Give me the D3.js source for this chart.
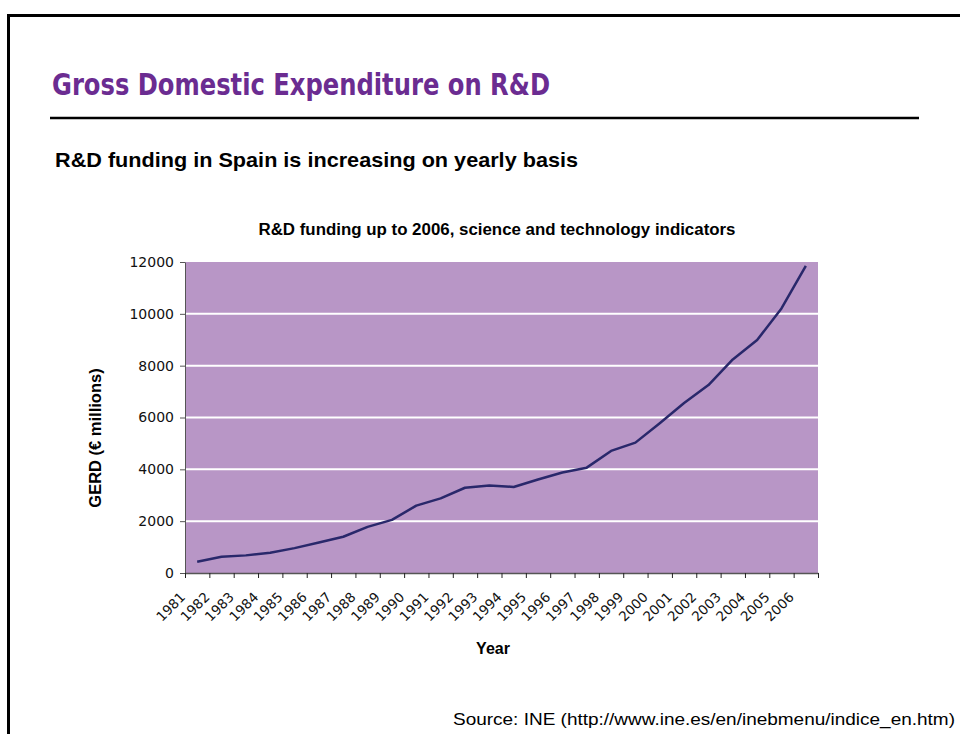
<!DOCTYPE html>
<html>
<head>
<meta charset="utf-8">
<script src="https://cdn.jsdelivr.net/npm/d3@7"></script>
<style>
  body { margin: 0; background: #fff; }
  text { font-family: "Liberation Sans", Arial, sans-serif; }
</style>
</head>
<body>
<script>
// data
var years = ['1981','1982','1983','1984','1985','1986','1987','1988','1989','1990',
             '1991','1992','1993','1994','1995','1996','1997','1998','1999','2000',
             '2001','2002','2003','2004','2005','2006'];
var gerd = [437, 625, 680, 785, 960, 1180, 1400, 1780, 2050, 2600,
            2880, 3290, 3380, 3320, 3610, 3880, 4065, 4710, 5030, 5780,
            6560, 7250, 8240, 8990, 10210, 11850];
var yTicks = [0, 2000, 4000, 6000, 8000, 10000, 12000];

window.onload = function() {
    var svg = d3.select('body').append('svg')
        .attr('width', 960)
        .attr('height', 734);

    // page frame, top and left edges only
    svg.append('path')
        .attr('d', 'M8.5,734 L8.5,15.5 L960,15.5')
        .style('fill', 'none')
        .style('stroke', '#000')
        .style('stroke-width', 3);

    // page heading
    svg.append('text')
        .attr('x', 52)
        .attr('y', 95)
        .attr('textLength', 498)
        .attr('lengthAdjust', 'spacingAndGlyphs')
        .style('font-family', '"Liberation Sans Narrow", "DejaVu Sans Condensed", sans-serif')
        .style('font-size', '31px')
        .style('font-weight', 'bold')
        .style('fill', '#6b2c91')
        .text('Gross Domestic Expenditure on R&D');

    svg.append('line')
        .attr('x1', 50).attr('x2', 919)
        .attr('y1', 118).attr('y2', 118)
        .style('stroke', '#000')
        .style('stroke-width', 2.5);

    svg.append('text')
        .attr('x', 55)
        .attr('y', 167)
        .attr('textLength', 523)
        .attr('lengthAdjust', 'spacingAndGlyphs')
        .style('font-size', '21px')
        .style('font-weight', 'bold')
        .text('R&D funding in Spain is increasing on yearly basis');

    // chart title
    svg.append('text')
        .attr('x', 497)
        .attr('y', 235)
        .attr('text-anchor', 'middle')
        .attr('textLength', 477)
        .attr('lengthAdjust', 'spacingAndGlyphs')
        .style('font-size', '16px')
        .style('font-weight', 'bold')
        .text('R&D funding up to 2006, science and technology indicators');

    var left = 185, right = 818, top = 262, bottom = 573;

    var x = d3.scaleBand()
        .domain(years)
        .range([left, right]);

    var y = d3.scaleLinear()
        .domain([0, 12000])
        .range([bottom, top]);

    // plot background
    svg.append('rect')
        .attr('x', left)
        .attr('y', top)
        .attr('width', right - left)
        .attr('height', bottom - top)
        .style('fill', '#b896c6');

    // white gridlines
    svg.selectAll('.grid')
        .data(yTicks.filter(function(d) { return d > 0 && d < 12000; }))
        .enter()
        .append('line')
        .attr('class', 'grid')
        .attr('x1', left).attr('x2', right)
        .attr('y1', function(d) { return y(d); })
        .attr('y2', function(d) { return y(d); })
        .style('stroke', '#fff')
        .style('stroke-width', 2);

    // y axis
    var yAxis = d3.axisLeft(y)
        .tickValues(yTicks)
        .tickSize(5)
        .tickSizeOuter(0)
        .tickPadding(6)
        .tickFormat(d3.format('d'));

    var yG = svg.append('g')
        .attr('transform', 'translate(' + left + ',0)')
        .call(yAxis);
    yG.select('.domain').style('stroke', '#555');
    yG.selectAll('.tick line').style('stroke', '#555');
    yG.selectAll('text')
        .style('font-family', '"DejaVu Sans", sans-serif')
        .style('font-size', '14px')
        .style('fill', '#111');

    // x axis ticks at band boundaries
    var edge = d3.scaleLinear().domain([0, years.length]).range([left, right]);
    var xTickG = svg.append('g')
        .attr('transform', 'translate(0,' + bottom + ')')
        .call(d3.axisBottom(edge)
            .tickValues(d3.range(years.length + 1))
            .tickSize(5)
            .tickSizeOuter(0)
            .tickFormat(''));
    xTickG.select('.domain').style('stroke', '#555').style('stroke-width', 1.5);
    xTickG.selectAll('.tick line').style('stroke', '#222');

    // rotated year labels
    svg.selectAll('.yearLabel')
        .data(years)
        .enter()
        .append('text')
        .attr('class', 'yearLabel')
        .attr('text-anchor', 'end')
        .attr('transform', function(d) {
            return 'translate(' + (x(d) + x.bandwidth() / 2 - 11) + ',598) rotate(-45)';
        })
        .style('font-family', '"DejaVu Sans", sans-serif')
        .style('font-size', '13.5px')
        .style('fill', '#111')
        .text(function(d) { return d; });

    // the series line
    var line = d3.line()
        .x(function(d, i) { return x(years[i]) + x.bandwidth() / 2; })
        .y(function(d) { return y(d); });

    svg.append('path')
        .datum(gerd)
        .attr('d', line)
        .style('fill', 'none')
        .style('stroke', '#29286b')
        .style('stroke-width', 2.5)
        .style('stroke-linejoin', 'round');

    // axis titles
    svg.append('text')
        .attr('transform', 'translate(101,438) rotate(-90)')
        .attr('text-anchor', 'middle')
        .style('font-size', '16.5px')
        .style('font-weight', 'bold')
        .text('GERD (€ millions)');

    svg.append('text')
        .attr('x', 493)
        .attr('y', 654)
        .attr('text-anchor', 'middle')
        .style('font-size', '16px')
        .style('font-weight', 'bold')
        .text('Year');

    // source note
    svg.append('text')
        .attr('x', 955)
        .attr('y', 725)
        .attr('text-anchor', 'end')
        .attr('textLength', 502)
        .attr('lengthAdjust', 'spacingAndGlyphs')
        .style('font-size', '17px')
        .text('Source: INE (http://www.ine.es/en/inebmenu/indice_en.htm)');
}
</script>
</body>
</html>
